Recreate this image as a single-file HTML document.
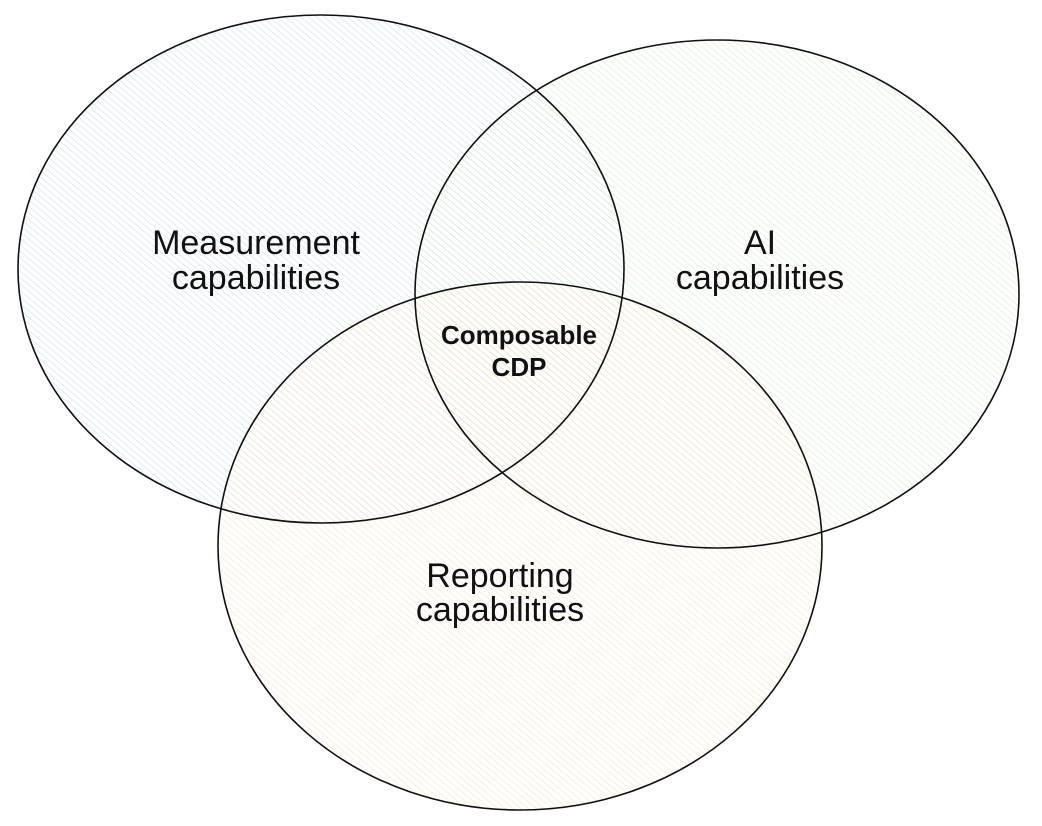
<!DOCTYPE html>
<html><head><style>
html,body{margin:0;padding:0;background:#fff;}
svg{display:block;}
text{font-family:"Liberation Sans",sans-serif;fill:#111;}
</style></head><body>
<svg width="1042" height="826" viewBox="0 0 1042 826">
<defs>
<pattern id="pb" width="5" height="5" patternUnits="userSpaceOnUse" patternTransform="rotate(-50)">
<line x1="0" y1="0" x2="0" y2="5" stroke="#cfe2ec" stroke-width="1.4"/></pattern>
<pattern id="pg" width="5" height="5" patternUnits="userSpaceOnUse" patternTransform="rotate(-50)">
<line x1="0" y1="0" x2="0" y2="5" stroke="#dcebd5" stroke-width="1.4"/></pattern>
<pattern id="po" width="5" height="5" patternUnits="userSpaceOnUse" patternTransform="rotate(-50)">
<line x1="0" y1="0" x2="0" y2="5" stroke="#f5e5c8" stroke-width="1.4"/></pattern>
</defs>
<ellipse cx="321" cy="269" rx="303" ry="254" fill="url(#pb)"/>
<ellipse cx="717" cy="294" rx="302" ry="254" fill="url(#pg)" fill-opacity="0.9"/>
<ellipse cx="520" cy="546" rx="302" ry="264" fill="url(#po)" fill-opacity="0.9"/>
<g fill="none" stroke="#111" stroke-width="1.6">
<ellipse cx="321" cy="269" rx="303" ry="254"/>
<ellipse cx="717" cy="294" rx="302" ry="254"/>
<ellipse cx="520" cy="546" rx="302" ry="264"/>
</g>
<g font-size="34" text-anchor="middle">
<text x="256" y="254">Measurement</text>
<text x="256" y="289">capabilities</text>
<text x="760" y="254">AI</text>
<text x="760" y="289">capabilities</text>
<text x="500" y="587">Reporting</text>
<text x="500" y="621">capabilities</text>
</g>
<g font-size="26" font-weight="bold" text-anchor="middle">
<text x="519" y="344">Composable</text>
<text x="519" y="376">CDP</text>
</g>
</svg>
</body></html>
